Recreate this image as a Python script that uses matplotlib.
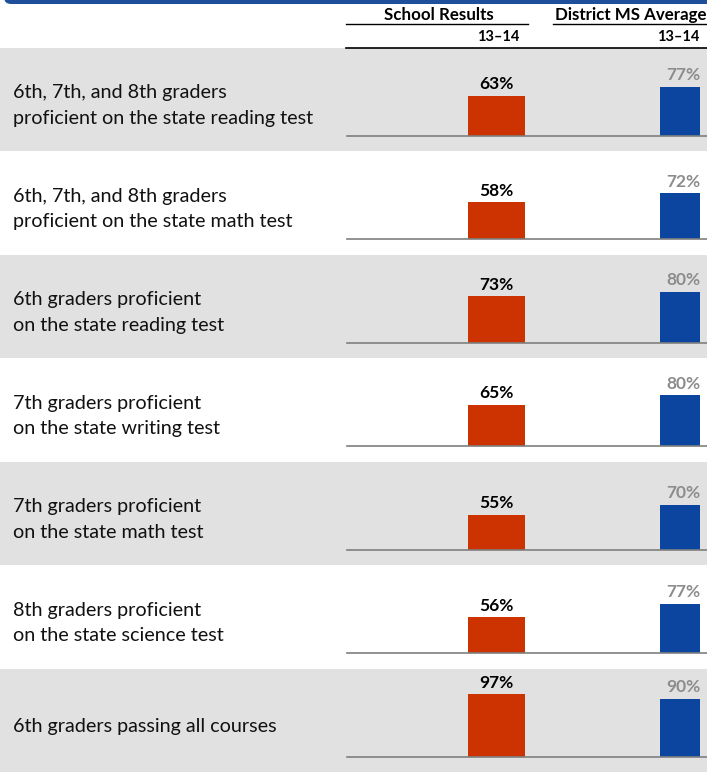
import matplotlib
matplotlib.use("Agg")
import matplotlib.pyplot as plt
from matplotlib.patches import Rectangle, FancyBboxPatch

plt.rcParams['font.family'] = ['Lato', 'DejaVu Sans']

categories = [
    "6th, 7th, and 8th graders\nproficient on the state reading test",
    "6th, 7th, and 8th graders\nproficient on the state math test",
    "6th graders proficient\non the state reading test",
    "7th graders proficient\non the state writing test",
    "7th graders proficient\non the state math test",
    "8th graders proficient\non the state science test",
    "6th graders passing all courses",
]
school = [63, 58, 73, 65, 55, 56, 97]
district = [77, 72, 80, 80, 70, 77, 90]
series_names = ["School Results", "District MS Average"]
period = "13–14"

W, H = 707, 772
fig = plt.figure(figsize=(W / 100, H / 100), dpi=100)

ORANGE = "#CC3300"
BLUE = "#0B45A0"
GRAY_BG = "#E1E1E1"

header_h = 48
row_h = (H - header_h) / len(categories)
base_off = row_h - 88          # px from row bottom to baseline
px_per_pct = 0.64

# background axes in pixel coords
bg = fig.add_axes([0, 0, 1, 1])
bg.set_xlim(0, W)
bg.set_ylim(H, 0)
bg.axis("off")

# top banner
bg.add_patch(FancyBboxPatch((4, -10), W + 20, 14, boxstyle="round,pad=0,rounding_size=7",
                            facecolor="#1F4E9A", edgecolor="none"))

# header texts
bg.text(439, 15, series_names[0], ha="center", va="center", fontsize=12.2, fontweight="bold")
bg.text(631, 15, series_names[1], ha="center", va="center", fontsize=12.2, fontweight="bold")
bg.plot([346, 528], [24, 24], color="black", lw=1)
bg.plot([553, 707], [24, 24], color="black", lw=1)
bg.text(519, 37, period, ha="right", va="center", fontsize=10.5, fontweight="bold")
bg.text(699, 37, period, ha="right", va="center", fontsize=10.5, fontweight="bold")
bg.plot([346, 707], [48, 48], color="black", lw=1.2)

for i, cat in enumerate(categories):
    top = header_h + i * row_h
    if i % 2 == 0:
        bg.add_patch(Rectangle((0, top), W, row_h, facecolor=GRAY_BG, edgecolor="none", zorder=0))
    bg.text(13, top + row_h / 2 + 6, cat, ha="left", va="center", fontsize=14.2,
            linespacing=1.62, color="#111111")

    # row axes
    bottom_frac = 1 - (top + row_h) / H
    ax = fig.add_axes([0, bottom_frac, 1, row_h / H])
    ax.set_xlim(0, W)
    ax.set_ylim(-base_off / px_per_pct, (row_h - base_off) / px_per_pct)
    ax.axis("off")
    ax.patch.set_alpha(0)
    ax.bar([496], [school[i]], width=57, color=ORANGE)
    ax.bar([680], [district[i]], width=40, color=BLUE)
    ax.plot([347, W], [0, 0], color="#7F7F7F", lw=1.2)
    ax.annotate(f"{school[i]}%", (496, school[i]), xytext=(0, 2.5), textcoords="offset points",
                ha="center", va="bottom", fontsize=12.5, fontweight="bold", color="black")
    ax.annotate(f"{district[i]}%", (683, district[i]), xytext=(0, 2.5), textcoords="offset points",
                ha="center", va="bottom", fontsize=12.5, fontweight="bold", color="#8C8C8C")

fig.savefig("out.png", dpi=100)
